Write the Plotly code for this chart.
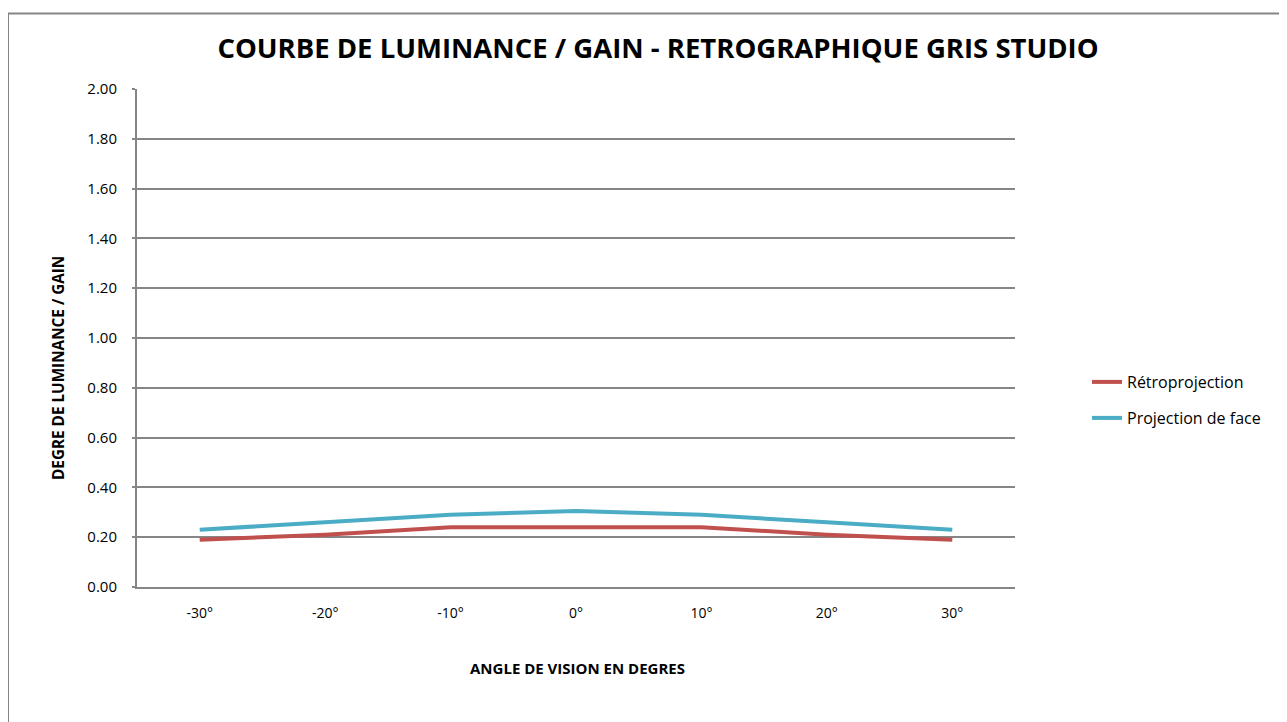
import plotly.graph_objects as go

angles = ["-30°", "-20°", "-10°", "0°", "10°", "20°", "30°"]
retro = [0.19, 0.21, 0.24, 0.24, 0.24, 0.21, 0.19]
face = [0.23, 0.26, 0.29, 0.305, 0.29, 0.26, 0.23]
y_ticks = [0, 0.2, 0.4, 0.6, 0.8, 1.0, 1.2, 1.4, 1.6, 1.8, 2.0]

FONT = "Open Sans"
W, H = 1287, 722
OFF = 8  # page body offset
# plot area in page pixels
PX0, PX1, PY0, PY1 = 137, 1015, 89, 587
L, T = PX0 - OFF, PY0 - OFF
pw, ph = PX1 - PX0, PY1 - PY0
R, B = W - L - pw, H - T - ph


def px_x(p):
    return (p - PX0) / pw


def px_y(p):
    return (PY1 - p) / ph


fig = go.Figure()
fig.add_trace(go.Scatter(x=angles, y=retro, mode="lines", name="Rétroprojection",
                         line=dict(color="#C0504D", width=4), legend="legend"))
fig.add_trace(go.Scatter(x=angles, y=face, mode="lines", name="Projection de face",
                         line=dict(color="#4BACC6", width=4), legend="legend2"))

leg_common = dict(xanchor="left", yanchor="middle", font=dict(size=16, family=FONT),
                  bgcolor="rgba(0,0,0,0)", itemwidth=30)

fig.update_layout(
    width=W, height=H,
    margin=dict(l=L, r=R, t=T, b=B),
    paper_bgcolor="white", plot_bgcolor="white",
    font=dict(family=FONT, color="#000000", size=15),
    title=dict(text="<b>COURBE DE LUMINANCE / GAIN - RETROGRAPHIQUE GRIS STUDIO</b>",
               x=px_x(658), xref="paper", xanchor="center",
               y=1 - (48 - OFF) / H, yanchor="middle",
               font=dict(family=FONT, size=27.5, color="#000000")),
    xaxis=dict(type="category", categoryorder="array", categoryarray=angles,
               range=[-0.5, 6.5], showgrid=False, showline=True, linecolor="#868686",
               linewidth=2, ticks="", tickfont=dict(size=14), ticklabelstandoff=12),
    yaxis=dict(range=[0, 2.0], tickvals=y_ticks, ticktext=[f"{v:.2f}" for v in y_ticks],
               showgrid=True, gridcolor="#868686", gridwidth=1.5, showline=True,
               linecolor="#868686", linewidth=2, ticks="outside", ticklen=3,
               tickcolor="#868686", tickwidth=2, tickfont=dict(size=15), zeroline=False,
               ticklabelstandoff=12),
    legend=dict(x=px_x(1087), y=px_y(382), **leg_common),
    legend2=dict(x=px_x(1087), y=px_y(418), **leg_common),
    showlegend=True,
)

fig.add_annotation(text="<b>ANGLE DE VISION EN DEGRES</b>", xref="paper", yref="paper",
                   x=px_x(577), y=px_y(668), xanchor="center", yanchor="middle",
                   showarrow=False, font=dict(size=15, family=FONT))
fig.add_annotation(text="<b>DEGRE DE LUMINANCE / GAIN</b>", xref="paper", yref="paper",
                   x=px_x(58), y=px_y(368), xanchor="center", yanchor="middle",
                   textangle=-90, showarrow=False, font=dict(size=15.3, family=FONT))

fig.add_shape(type="rect", xref="paper", yref="paper",
              x0=px_x(8), x1=px_x(1310), y0=px_y(745), y1=px_y(13.5),
              line=dict(color="#868686", width=2), layer="below")

fig.write_html("out.html")
